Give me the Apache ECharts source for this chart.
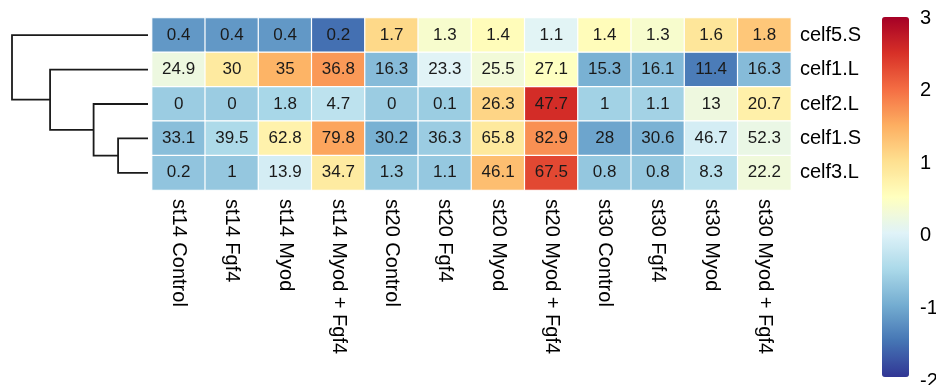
<!DOCTYPE html>
<html>
<head>
<meta charset="utf-8">
<script src="https://cdn.jsdelivr.net/npm/echarts@6/dist/echarts.min.js"></script>
<style>
  html, body { margin: 0; padding: 0; background: #fff; }
  #chart { width: 936px; height: 385px; }
</style>
</head>
<body>
<div id="chart"></div>
<script>
// Samples (columns) and genes (rows, in dendrogram order)
const samples = ['st14 Control', 'st14 Fgf4', 'st14 Myod', 'st14 Myod + Fgf4',
                 'st20 Control', 'st20 Fgf4', 'st20 Myod', 'st20 Myod + Fgf4',
                 'st30 Control', 'st30 Fgf4', 'st30 Myod', 'st30 Myod + Fgf4'];
const genes = ['celf5.S', 'celf1.L', 'celf2.L', 'celf1.S', 'celf3.L'];

// Expression values per gene
const celf5_S = [0.4, 0.4, 0.4, 0.2, 1.7, 1.3, 1.4, 1.1, 1.4, 1.3, 1.6, 1.8];
const celf1_L = [24.9, 30, 35, 36.8, 16.3, 23.3, 25.5, 27.1, 15.3, 16.1, 11.4, 16.3];
const celf2_L = [0, 0, 1.8, 4.7, 0, 0.1, 26.3, 47.7, 1, 1.1, 13, 20.7];
const celf1_S = [33.1, 39.5, 62.8, 79.8, 30.2, 36.3, 65.8, 82.9, 28, 30.6, 46.7, 52.3];
const celf3_L = [0.2, 1, 13.9, 34.7, 1.3, 1.1, 46.1, 67.5, 0.8, 0.8, 8.3, 22.2];
const geneValues = [celf5_S, celf1_L, celf2_L, celf1_S, celf3_L];

// Row clustering: [left node, right node, height]; leaves are gene indices,
// merged nodes are referred to as 'n0', 'n1', ... in merge order
const merges = [
  [3, 4, 0.22],
  [2, 'n0', 0.40],
  [1, 'n1', 0.72],
  [0, 'n2', 1.00]
];

// Colour scale ticks and palette (RdYlBu, reversed)
const scaleTicks = [-2, -1, 0, 1, 2, 3];
const palette = ['#313695', '#4575B4', '#74ADD1', '#ABD9E9', '#E0F3F8', '#FFFFBF',
                 '#FEE090', '#FDAE61', '#F46D43', '#D73027', '#A50026'];

// Row-wise z-scores (sample standard deviation)
function rowScale(v) {
  const n = v.length;
  const mean = v.reduce((a, b) => a + b, 0) / n;
  const sd = Math.sqrt(v.reduce((a, b) => a + (b - mean) * (b - mean), 0) / (n - 1));
  return v.map(x => (x - mean) / sd);
}

const cells = [];
geneValues.forEach((row, r) => {
  const z = rowScale(row);
  row.forEach((val, c) => cells.push({ value: [c, r, z[c]], raw: val }));
});

// Dendrogram segments from the merge list
const nodes = {};
const dendroLines = [];
function nodeInfo(id) {
  if (typeof id === 'number') return { y: id, h: 0 };
  return nodes[id];
}
merges.forEach((m, i) => {
  const a = nodeInfo(m[0]), b = nodeInfo(m[1]), h = m[2];
  dendroLines.push({ coords: [[a.h, a.y], [h, a.y], [h, b.y], [b.h, b.y]] });
  nodes['n' + i] = { y: (a.y + b.y) / 2, h: h };
});

const FONT = 'Liberation Sans, Arial, sans-serif';
const chart = echarts.init(document.getElementById('chart'));

chart.setOption({
  backgroundColor: '#fff',
  animation: false,
  grid: [
    { left: 152, top: 18, width: 639, height: 172, outerBoundsMode: 'none' },     // heatmap
    { left: 12, top: 18, width: 136, height: 172, outerBoundsMode: 'none' },      // dendrogram
    { left: 882, top: 18, width: 27, height: 363, outerBoundsMode: 'none' }       // colour scale labels
  ],
  xAxis: [
    {
      gridIndex: 0, type: 'category', data: samples,
      axisLine: { show: false }, axisTick: { show: false },
      axisLabel: { rotate: -90, margin: 9, interval: 0, fontFamily: FONT, fontSize: 20, color: '#000' }
    },
    { gridIndex: 1, type: 'value', min: 0, max: 1, inverse: true, show: false },
    { gridIndex: 2, type: 'value', min: 0, max: 1, show: false }
  ],
  yAxis: [
    {
      gridIndex: 0, type: 'category', data: genes, inverse: true, position: 'right',
      axisLine: { show: false }, axisTick: { show: false },
      axisLabel: { margin: 9, fontFamily: FONT, fontSize: 20, color: '#000' }
    },
    { gridIndex: 1, type: 'value', min: -0.5, max: genes.length - 0.5, inverse: true, show: false },
    {
      gridIndex: 2, type: 'value', min: scaleTicks[0], max: scaleTicks[scaleTicks.length - 1],
      interval: 1, position: 'right',
      axisLine: { show: false }, axisTick: { show: false }, splitLine: { show: false },
      axisLabel: { margin: 11, fontFamily: FONT, fontSize: 20, color: '#000', showMinLabel: true, showMaxLabel: true }
    }
  ],
  visualMap: {
    type: 'continuous',
    seriesIndex: 0,
    dimension: 2,
    min: scaleTicks[0],
    max: scaleTicks[scaleTicks.length - 1],
    calculable: false,
    hoverLink: false,
    left: 882, top: 17, padding: 0,
    itemWidth: 27, itemHeight: 360,
    text: ['', ''],
    inRange: { color: palette }
  },
  series: [
    {
      type: 'heatmap',
      xAxisIndex: 0, yAxisIndex: 0,
      data: cells,
      itemStyle: { borderColor: '#fff', borderWidth: 1.2 },
      label: {
        show: true,
        fontFamily: FONT, fontSize: 17, color: '#1a1a1a',
        formatter: p => String(p.data.raw)
      },
      emphasis: { disabled: true }
    },
    {
      type: 'lines',
      coordinateSystem: 'cartesian2d',
      xAxisIndex: 1, yAxisIndex: 1,
      polyline: true,
      data: dendroLines,
      lineStyle: { color: '#1a1a1a', width: 1.8, opacity: 1 },
      silent: true
    }
  ]
});
</script>
</body>
</html>
